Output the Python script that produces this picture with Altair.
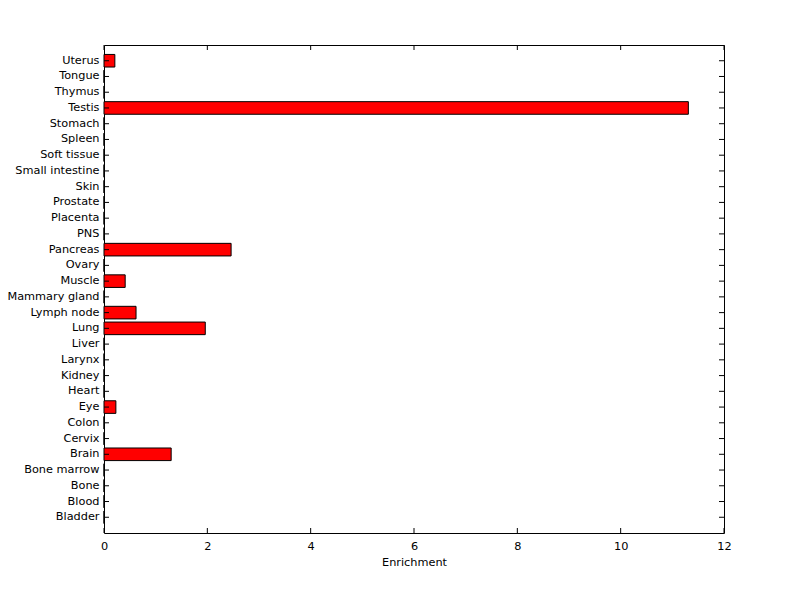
import altair as alt
import pandas as pd

tissues = ["Uterus", "Tongue", "Thymus", "Testis", "Stomach", "Spleen", "Soft tissue",
           "Small intestine", "Skin", "Prostate", "Placenta", "PNS", "Pancreas", "Ovary",
           "Muscle", "Mammary gland", "Lymph node", "Lung", "Liver", "Larynx", "Kidney",
           "Heart", "Eye", "Colon", "Cervix", "Brain", "Bone marrow", "Bone", "Blood", "Bladder"]
enrichment = [0.21, 0, 0, 11.31, 0, 0, 0,
              0, 0, 0, 0, 0, 2.46, 0,
              0.41, 0, 0.62, 1.96, 0, 0, 0,
              0, 0.23, 0, 0, 1.30, 0, 0, 0, 0]
x_ticks = [0, 2, 4, 6, 8, 10, 12]

df = pd.DataFrame({"tissue": tissues, "enrichment": enrichment})
tick_df = pd.DataFrame({"t": x_ticks})

W, H = 620, 488
FONT = "DejaVu Sans"
FS = 11.3

yscale = alt.Scale(paddingInner=0.2, paddingOuter=0.6)
xscale = alt.Scale(domain=[0, 12], nice=False, zero=True)

bars = alt.Chart(df).mark_bar(color="#ff0000", stroke="black", strokeWidth=1).encode(
    x=alt.X("enrichment:Q", scale=xscale,
            axis=alt.Axis(title="Enrichment", values=x_ticks, format="d", tickSize=0,
                          domain=False, grid=False, labelPadding=7, titlePadding=5,
                          labelFlush=False,
                          labelFontSize=FS, titleFontSize=FS, titleFontWeight="normal",
                          labelColor="black", titleColor="black", labelFont=FONT, titleFont=FONT)),
    y=alt.Y("tissue:N", sort=tissues, scale=yscale,
            axis=alt.Axis(title=None, tickSize=0, domain=False, grid=False, labelPadding=5,
                          labelFontSize=FS, labelColor="black", labelFont=FONT)),
)

left_ticks = alt.Chart(df).mark_rule(color="black", strokeWidth=1).encode(
    y=alt.Y("tissue:N", sort=tissues, scale=yscale), x=alt.value(0), x2=alt.value(5))
right_ticks = alt.Chart(df).mark_rule(color="black", strokeWidth=1).encode(
    y=alt.Y("tissue:N", sort=tissues, scale=yscale), x=alt.value(W - 5), x2=alt.value(W))
top_ticks = alt.Chart(tick_df).mark_rule(color="black", strokeWidth=1).encode(
    x=alt.X("t:Q", scale=xscale), y=alt.value(0), y2=alt.value(5))
bottom_ticks = alt.Chart(tick_df).mark_rule(color="black", strokeWidth=1).encode(
    x=alt.X("t:Q", scale=xscale), y=alt.value(H - 5), y2=alt.value(H))

chart = alt.layer(bars, left_ticks, right_ticks, top_ticks, bottom_ticks).properties(
    width=W, height=H,
    autosize=alt.AutoSizeParams(type="none"),
    padding={"left": 96, "top": 37, "right": 60, "bottom": 50},
    background="white",
).configure_view(stroke="black", strokeWidth=1)

chart.save("out.html", embed_options={"renderer": "svg", "actions": False})
